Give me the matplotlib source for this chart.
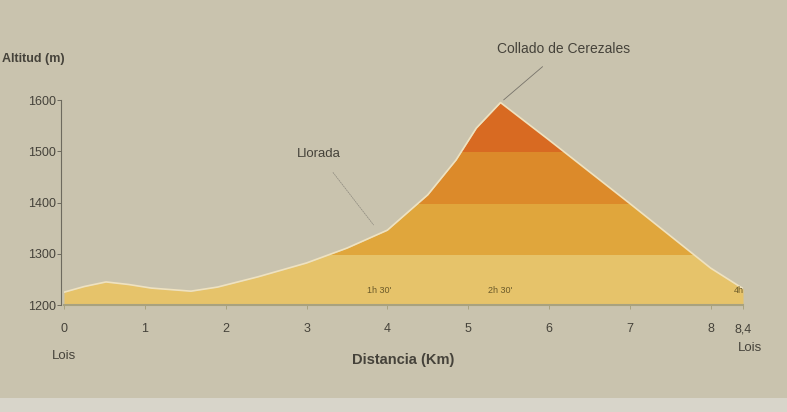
import numpy as np
import matplotlib.pyplot as plt
from matplotlib.patches import Rectangle

plt.rcParams['font.family'] = ['Liberation Sans', 'DejaVu Sans']

# route profile Lois -> Collado de Cerezales -> Lois
dist_km = [0.0, 0.25, 0.52, 0.8, 1.08, 1.57, 1.9, 2.4, 3.0, 3.5, 4.0, 4.5, 4.85, 5.1, 5.4, 6.0, 7.0, 8.0, 8.4]
alt_m = [1225, 1236, 1245, 1240, 1233, 1227, 1235, 1255, 1282, 1311, 1346, 1415, 1483, 1545, 1595, 1522, 1398, 1272, 1232]

band_edges = [1200, 1300, 1400, 1500, 1600]
band_colors = ['#e6c36a', '#e0a63c', '#dc8a2a', '#d86a22']

x_ticks = [0, 1, 2, 3, 4, 5, 6, 7, 8, 8.4]
x_ticklabels = ['0', '1', '2', '3', '4', '5', '6', '7', '8', '8,4']
y_ticks = [1200, 1300, 1400, 1500, 1600]

times = [(3.9, "1h 30'"), (5.4, "2h 30'"), (8.35, "4h")]

bg = '#c9c3ae'
txt = '#45423a'

fig = plt.figure(figsize=(7.87, 4.12), dpi=100, facecolor=bg)
fig.patches.append(Rectangle((0, 0), 1, 0.035, transform=fig.transFigure,
                             facecolor='#d8d5ca', edgecolor='none', zorder=0))
ax = fig.add_axes([64 / 787, (412 - 305) / 412, (743 - 64) / 787, 205 / 412])
ax.set_facecolor(bg)

# altitude bands: fill the whole profile, clipped to each band
for lo, hi, c in zip(band_edges[:-1], band_edges[1:], band_colors):
    poly = ax.fill_between(dist_km, 1200, alt_m, color=c, linewidth=0, zorder=2)
    clip = Rectangle((0, lo), 8.4, hi - lo, transform=ax.transData)
    poly.set_clip_path(clip)
ax.plot(dist_km, alt_m, color='#efe2c0', lw=1.2, zorder=3)

ax.set_xlim(0, 8.4)
ax.set_ylim(1200, 1600)
for s in ['top', 'right']:
    ax.spines[s].set_visible(False)
ax.spines['left'].set_color('#6d6a5e')
ax.spines['left'].set_linewidth(0.8)
ax.spines['left'].set_position(('outward', 2))
ax.spines['bottom'].set_color('#a8a27f')
ax.spines['bottom'].set_linewidth(1.5)

ax.set_yticks(y_ticks)
ax.set_yticklabels([str(v) for v in y_ticks], fontsize=9, color=txt)
ax.set_xticks(x_ticks)
ax.set_xticklabels(x_ticklabels, fontsize=9, color=txt)
ax.tick_params(axis='y', length=3, width=0.7, color='#6d6a5e', pad=1)
ax.tick_params(axis='x', length=3, width=0.7, color='#a8a27f', pad=10)

# axis titles
fig.text(2 / 787, 1 - 59 / 412, 'Altitud (m)', ha='left', va='center',
         fontsize=9, color=txt, fontweight='bold')
ax.set_xlabel('Distancia (Km)', fontsize=10.5, color=txt, fontweight='bold', labelpad=13)
ax.text(0, -0.22, 'Lois', transform=ax.transAxes, ha='center', va='top',
        fontsize=9.5, color=txt)
ax.text(1.01, -0.18, 'Lois', transform=ax.transAxes, ha='center', va='top',
        fontsize=9.5, color=txt)

# place names
ax.annotate('Collado de Cerezales', xy=(5.4, 1595), xytext=(6.18, 1700),
            ha='center', va='center', fontsize=10, color=txt,
            annotation_clip=False,
            arrowprops=dict(arrowstyle='-', color='#77736a', lw=0.6,
                            shrinkA=9, shrinkB=3))
ax.annotate('Llorada', xy=(3.85, 1352), xytext=(3.15, 1495),
            ha='center', va='center', fontsize=9.5, color=txt,
            arrowprops=dict(arrowstyle='-', color='#8d897e', lw=0.5,
                            linestyle=(0, (2, 1.5)), shrinkA=9, shrinkB=2))

for xv, label in times:
    ax.text(xv, 1228, label, ha='center', va='center', fontsize=6.5,
            color='#6b5a2a', zorder=4)

fig.savefig('out.png', dpi=100, facecolor=bg)
